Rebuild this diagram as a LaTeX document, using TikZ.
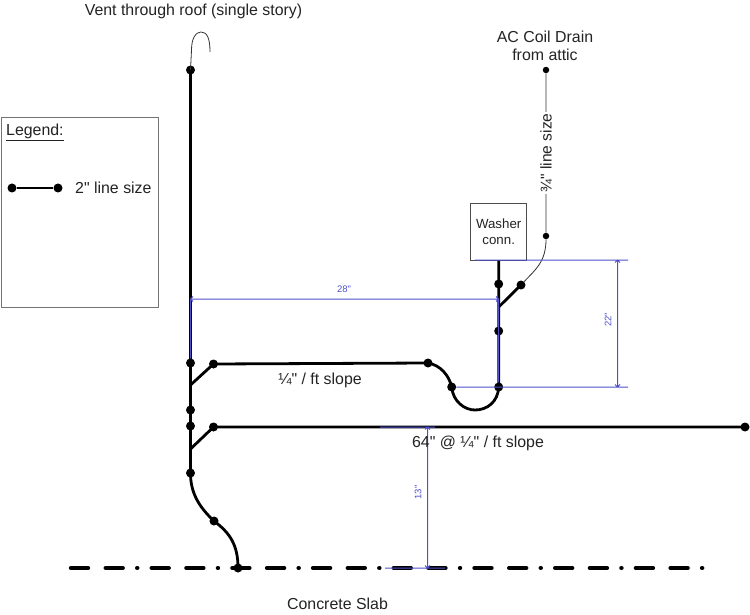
\documentclass[tikz,border=0pt]{standalone}
\usepackage{fontspec}
\setmainfont{Liberation Sans}[Ligatures=TeXOff]
\definecolor{dimblue}{RGB}{80,80,205}
\definecolor{textgray}{RGB}{35,35,35}
\tikzset{
  joint/.style={circle,fill=black,inner sep=0pt,minimum size=9pt},
  smalljoint/.style={circle,fill=black,inner sep=0pt,minimum size=6.5pt},
  pipe/.style={line width=2.8pt,black},
  thinpipe/.style={line width=0.8pt,black!80},
  dimline/.style={line width=1pt,dimblue},
  label/.style={text=textgray,font=\fontsize{15.9}{18}\selectfont,inner sep=0pt},
  dimlabel/.style={text=dimblue,font=\fontsize{9.5}{11}\selectfont,inner sep=0pt},
  slab/.style={line width=4.4pt,line cap=round,dash pattern=on 17pt off 17.7pt on 17pt off 14.5pt on 0.1pt off 14.4pt}
}
\begin{document}
\begin{tikzpicture}[x=1pt,y=-1pt]
\useasboundingbox (0,0) rectangle (750,615);
% slab
\coordinate (slabl) at (71,568);
\coordinate (slabr) at (703,568);
\draw[slab] (slabl) -- (slabr);
% legend
\node[draw=black!55,line width=0.9pt,minimum width=157pt,minimum height=189.5pt,inner sep=0pt] (legend) at (79.5,212.5) {};
\node[label,anchor=west] (legendtitle) at (6,132) {\underline{Legend:}};
\node[joint] (lega) at (12,188) {};
\node[joint] (legb) at (58,188) {};
\draw[pipe] (lega) -- (legb);
\node[label,anchor=west] (legendtext) at (75,188) {2" line size};
% stack joints
\node[joint] (vent) at (190.5,70) {};
\node[joint] (st1) at (190.5,363) {};
\node[joint] (st2) at (190.5,410) {};
\node[joint] (st3) at (190.5,426) {};
\node[joint] (st4) at (190.5,473) {};
\node[joint] (st5) at (214,521) {};
\node[joint] (st6) at (238,568) {};
\coordinate (tee1) at (190.5,385);
\coordinate (tee2) at (190.5,449);
\node[joint] (br1) at (213.5,364) {};
\node[joint] (br2) at (213.5,427) {};
% washer side joints
\node[joint] (bend) at (428,363) {};
\node[joint] (trapl) at (451.7,387) {};
\node[joint] (trapr) at (498.7,387) {};
\node[joint] (wd1) at (498.7,284) {};
\node[joint] (wd2) at (498.7,331) {};
\node[joint] (acbr) at (521,285) {};
\coordinate (tee3) at (498.7,307);
\coordinate (trapb) at (475,410);
\node[joint] (longend) at (745,427) {};
\node[draw=black!70,line width=0.9pt,minimum width=56pt,minimum height=57pt,inner sep=0pt,text=textgray,align=center,font=\fontsize{13.3}{16}\selectfont] (washer) at (498.7,231.5) {Washer\\conn.};
% ac drain
\node[smalljoint] (actop) at (546,70) {};
\node[smalljoint] (acbot) at (546,236) {};
% pipes
\draw[pipe] (vent.center) -- (st4.center) .. controls (190.5,492) and (198,506) .. (st5.center) .. controls (230,533) and (238,545) .. (st6.center);
\draw[pipe] (tee1) -- (br1.center) -- (bend.center) .. controls (440,365) and (449,375) .. (trapl.center) .. controls (453,402) and (465,410) .. (trapb) .. controls (487,410) and (498,402) .. (trapr.center) -- (washer.south);
\draw[pipe] (tee2) -- (br2.center) -- (longend.center);
\draw[pipe] (tee3) -- (acbr.center);
% thin lines
\coordinate (hookend) at (210,52);
\draw[thinpipe] (vent.center) -- (191.5,50) .. controls (191.5,38) and (196,32) .. (201,32) .. controls (207,32) and (210,38) .. (hookend);
\draw[thinpipe] (actop) -- (acbot) .. controls (546,262) and (535,270) .. (acbr);
\node[rotate=90,fill=white,inner sep=1pt,text=textgray,font=\fontsize{15.6}{18}\selectfont] (acsize) at (546,153) {¾" line size};
% dimensions
\coordinate (d28a) at (190.5,299);
\coordinate (d28b) at (498.7,299);
\coordinate (d22t) at (617.5,260);
\coordinate (d22b) at (617.5,387);
\coordinate (d13t) at (427.5,427);
\coordinate (d13b) at (427.5,568);
\coordinate (ext1) at (475,260);
\coordinate (ext2) at (628,260);
\coordinate (ext3) at (628,387);
\coordinate (ext4) at (385,568);
\coordinate (ext5) at (445,568);
\coordinate (ext6) at (380,427);
\coordinate (ext7) at (435,427);
\draw[dimline] (d28a) -- (d28b) (d22t) -- (d22b) (d13t) -- (d13b) (d28a) -- (st1) (d28b) -- (trapr)
  (ext1) -- (ext2) (trapl) -- (ext3) (ext4) -- (ext5) (ext6) -- (ext7)
  (d22t) ++(-2.5,2.5) -- (d22t) -- ++(2.5,2.5) (d22b) ++(-2.5,-2.5) -- (d22b) -- ++(2.5,-2.5)
  (d13t) ++(-2.5,2.5) -- (d13t) -- ++(2.5,2.5) (d13b) ++(-2.5,-2.5) -- (d13b) -- ++(2.5,-2.5)
  (d28a) ++(2.5,-2.5) -- (d28a) -- ++(2.5,2.5) (d28b) ++(-2.5,-2.5) -- (d28b) -- ++(-2.5,2.5);
\node[dimlabel] (l28) at (344,289) {28"};
\node[dimlabel,rotate=90] (l22) at (608,320) {22"};
\node[dimlabel,rotate=90] (l13) at (418,492.5) {13"};
% labels
\node[label] (venttext) at (193.5,11) {Vent through roof (single story)};
\node[label,align=center] (actext) at (545,46) {AC Coil Drain\\from attic};
\node[label] (slope1) at (320,380) {¼" / ft slope};
\node[label] (slope2) at (478,443) {64" @ ¼" / ft slope};
\node[label] (slabtext) at (337.5,604) {Concrete Slab};
\end{tikzpicture}
\end{document}
